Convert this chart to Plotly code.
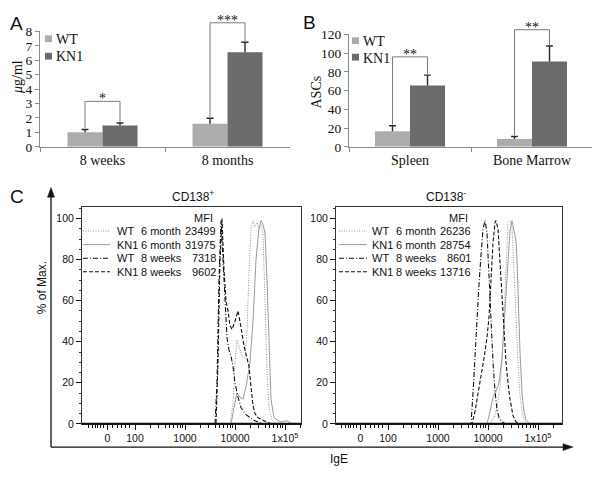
import plotly.graph_objects as go

W, H = 600, 482
OFF = 8  # default page margin of the html body


def fx(p):
    return (p - OFF) / W


def fy(p):
    return 1 - (p - OFF) / H


SERIF = "Liberation Serif"
SANS = "Liberation Sans"

# ---------------- Panel A data ----------------
a_categories = ["8 weeks", "8 months"]
a_wt = [1.0, 1.6]
a_wt_err = [0.2, 0.38]
a_kn1 = [1.48, 6.55]
a_kn1_err = [0.17, 0.7]
a_sig_labels = ["*", "***"]
a_sig_top = [3.15, 8.6]
a_yticks = [0, 1, 2, 3, 4, 5, 6, 7, 8]

# ---------------- Panel B data ----------------
b_categories = ["Spleen", "Bone Marrow"]
b_wt = [16.5, 8.3]
b_wt_err = [5.9, 2.7]
b_kn1 = [65.5, 91]
b_kn1_err = [11, 16.6]
b_sig_labels = ["**", "**"]
b_sig_top = [96, 125]
b_yticks = [0, 20, 40, 60, 80, 100, 120]

# ---------------- Panel C data (IgE fluorescence, % of max) ----------------
c_series = ["WT  6 month", "KN1 6 month", "WT  8 weeks", "KN1 8 weeks"]
c_groups = ["WT", "KN1", "WT", "KN1"]
c_times = ["6 month", "6 month", "8 weeks", "8 weeks"]
c_pos_mfi = ["23499", "31975", "7318", "9602"]
c_neg_mfi = ["26236", "28754", "8601", "13716"]

# CD138+
pos_wt6_x = [10, 7943, 9120, 10000, 10965, 12023, 13804, 15849, 17378, 19055, 20893, 22909,
             25119, 27542, 30200, 33113, 36308, 39811, 43652, 47863, 54954, 66069, 200000]
pos_wt6_y = [0, 0, 10, 30, 41, 38, 33, 32, 45, 75, 95, 99, 96, 98, 95, 97, 93, 60, 25, 8, 2, 0, 0]
pos_kn6_x = [10, 8318, 9550, 10965, 12589, 14454, 16596, 19953, 22909, 26303, 30200, 33113, 36308,
             39811, 43652, 47863, 52481, 60256, 79433, 109648, 138038, 200000]
pos_kn6_y = [0, 0, 8, 15, 13, 12, 18, 30, 50, 80, 95, 99, 97, 93, 70, 35, 12, 3, 1, 1.5, 0, 0]
pos_wt8_x = [10, 3981, 4365, 4786, 5248, 5754, 6310, 6918, 7586, 8318, 9120, 10000, 11482, 13183,
             15849, 19953, 25119, 31623, 39811, 200000]
pos_wt8_y = [0, 0, 20, 70, 99, 80, 60, 42, 36, 33, 28, 20, 13, 8, 5, 3, 1.5, 0.5, 0, 0]
pos_kn8_x = [10, 4169, 4571, 5012, 5495, 6026, 6607, 7244, 7943, 8710, 10000, 11482, 13183, 15136,
             17378, 19055, 20893, 22909, 25119, 28840, 34674, 41687, 54954, 200000]
pos_kn8_y = [0, 0, 30, 80, 100, 75, 60, 55, 48, 46, 50, 55, 47, 38, 32, 28, 18, 9, 5, 3, 2, 1, 0, 0]

# CD138-
neg_wt6_x = [10, 10965, 13183, 15136, 17378, 19055, 20893, 22909, 25119, 27542, 30200, 33113,
             36308, 39811, 43652, 47863, 52481, 60256, 300000]
neg_wt6_y = [0, 0, 3, 8, 18, 30, 52, 80, 98, 99, 96, 75, 50, 30, 14, 6, 2, 0, 0]
neg_kn6_x = [10, 9550, 10965, 12589, 14454, 16596, 19055, 21878, 25119, 27542, 30200, 33113,
             36308, 38019, 39811, 43652, 47863, 52481, 57544, 69183, 300000]
neg_kn6_y = [0, 0, 6, 13, 16, 20, 32, 55, 80, 94, 99, 94, 89, 80, 60, 35, 15, 6, 2, 0, 0]
neg_wt8_x = [10, 4571, 5012, 5495, 6026, 6607, 7244, 7943, 8710, 9550, 10471, 11482, 12589, 13804,
             15136, 16596, 19055, 22909, 300000]
neg_wt8_y = [0, 0, 15, 35, 52, 68, 82, 95, 99, 93, 72, 50, 30, 16, 7, 3, 1, 0, 0]
neg_kn8_x = [10, 4786, 5495, 6310, 7244, 8318, 9550, 10471, 11482, 12589, 13804, 14454, 15849,
             17378, 19055, 20893, 22909, 25119, 27542, 31623, 36308, 41687, 300000]
neg_kn8_y = [0, 0, 6, 14, 22, 32, 42, 52, 70, 88, 98, 99, 95, 78, 60, 45, 30, 20, 12, 4, 1, 0, 0]

c_x_tickvals = [28, 100, 1000, 10000, 100000]
c_x_ticktext = ["0", "100", "1000", "10000", "1x10<sup>5</sup>"]
c_y_tickvals = [0, 20, 40, 60, 80, 100]

# ---------------- styles ----------------
WT_COLOR = "#acacac"
KN_COLOR = "#6b6b6b"
AX_GRAY = "#8c8c8c"
ERR_COLOR = "#2a2a2a"
c_styles = [
    dict(color="#8f8f8f", width=1, dash="1px,1.5px"),
    dict(color="#9a9a9a", width=1, dash="solid"),
    dict(color="#111111", width=1.1, dash="5px,2px,1px,2px"),
    dict(color="#111111", width=1.1, dash="4px,2px"),
]

fig = go.Figure()
shapes = []
annotations = []

# ---- bar panels ----
bar_panels = [
    ("x", "y", a_categories, a_wt, a_wt_err, a_kn1, a_kn1_err, 0.28),
    ("x2", "y2", b_categories, b_wt, b_wt_err, b_kn1, b_kn1_err, 0.287),
]
for xa, ya, cats, wt, wte, kn, kne, bw in bar_panels:
    for vals, errs, col, off, nm in [(wt, wte, WT_COLOR, -bw, "WT"), (kn, kne, KN_COLOR, 0, "KN1")]:
        fig.add_trace(go.Bar(
            x=cats, y=vals, name=nm, marker=dict(color=col, line=dict(width=0)),
            width=bw, offset=off, xaxis=xa, yaxis=ya, showlegend=False,
            error_y=dict(type="data", array=errs, arrayminus=[0] * len(errs), symmetric=False,
                         color=ERR_COLOR, thickness=1.4, width=0),
        ))
        # caps of the (upper-only) error bars
        for i, (v, e) in enumerate(zip(vals, errs)):
            c = i + off + bw / 2
            shapes.append(dict(type="line", xref=xa, yref=ya, x0=c - 0.028, x1=c + 0.028,
                               y0=v + e, y1=v + e, line=dict(color=ERR_COLOR, width=1.4)))

# ---- histogram panels ----
pos_curves = [(pos_wt6_x, pos_wt6_y), (pos_kn6_x, pos_kn6_y), (pos_wt8_x, pos_wt8_y), (pos_kn8_x, pos_kn8_y)]
neg_curves = [(neg_wt6_x, neg_wt6_y), (neg_kn6_x, neg_kn6_y), (neg_wt8_x, neg_wt8_y), (neg_kn8_x, neg_kn8_y)]
for xa, ya, curves in [("x3", "y3", pos_curves), ("x4", "y4", neg_curves)]:
    for (cx, cy), st, nm in zip(curves, c_styles, c_series):
        fig.add_trace(go.Scatter(x=cx, y=cy, mode="lines", line=st, name=nm,
                                 xaxis=xa, yaxis=ya, showlegend=False, hoverinfo="skip"))


def brackets(xref, ydom, ymax, wt, wte, kn, kne, tops, labels, half):
    for i in range(len(tops)):
        t = tops[i] / ymax
        lo_l = (wt[i] + wte[i]) / ymax + 0.01
        lo_r = (kn[i] + kne[i]) / ymax + 0.01
        xl, xr = i - half, i + half
        line = dict(color="#7a7a7a", width=1)
        shapes.append(dict(type="line", xref=xref, yref=ydom, x0=xl, x1=xl, y0=lo_l, y1=t, line=line))
        shapes.append(dict(type="line", xref=xref, yref=ydom, x0=xl, x1=xr, y0=t, y1=t, line=line))
        shapes.append(dict(type="line", xref=xref, yref=ydom, x0=xr, x1=xr, y0=lo_r, y1=t, line=line))
        annotations.append(dict(x=i, y=t, xref=xref, yref=ydom, text=labels[i], showarrow=False,
                                yanchor="bottom", yshift=-7, font=dict(family=SERIF, size=14, color="#111")))


brackets("x", "y domain", 8, a_wt, a_wt_err, a_kn1, a_kn1_err, a_sig_top, a_sig_labels, 0.14)
brackets("x2", "y2 domain", 120, b_wt, b_wt_err, b_kn1, b_kn1_err, b_sig_top, b_sig_labels, 0.1435)

# ---- manual legends for A / B ----
for (sx, rows) in [(45, [(29, 36, WT_COLOR, "WT", 33.5), (47, 54, KN_COLOR, "KN1", 50.5)]),
                   (352, [(31, 38, WT_COLOR, "WT", 35), (48, 55, KN_COLOR, "KN1", 52.5)])]:
    for y0, y1, col, txt_, yc in rows:
        shapes.append(dict(type="rect", xref="paper", yref="paper", x0=fx(sx), x1=fx(sx + 7),
                           y0=fy(y1), y1=fy(y0), fillcolor=col, line=dict(width=0)))
        annotations.append(dict(x=fx(sx + 9), y=fy(yc), xref="paper", yref="paper", text=txt_,
                                showarrow=False, xanchor="left", yanchor="middle",
                                font=dict(family=SERIF, size=14, color="#111")))

# ---- manual legends for C ----
for (lx0, lx1, tx, mfi_r, mfi_vals) in [(83, 110, 115, 218, c_pos_mfi), (339, 367, 370, 473, c_neg_mfi)]:
    annotations.append(dict(x=fx(mfi_r - 15), y=fy(218), xref="paper", yref="paper", text="MFI",
                            showarrow=False, xanchor="center", yanchor="middle",
                            font=dict(family=SANS, size=11, color="#111")))
    for k in range(4):
        yy = fy(231 + 14 * k)
        st = c_styles[k]
        shapes.append(dict(type="line", xref="paper", yref="paper", x0=fx(lx0), x1=fx(lx1), y0=yy, y1=yy,
                           line=dict(color=st["color"], width=st["width"], dash=st["dash"])))
        annotations.append(dict(x=fx(tx), y=yy, xref="paper", yref="paper", text=c_groups[k],
                                showarrow=False, xanchor="left", yanchor="middle",
                                font=dict(family=SANS, size=11, color="#111")))
        annotations.append(dict(x=fx(tx + 24), y=yy, xref="paper", yref="paper", text=c_times[k],
                                showarrow=False, xanchor="left", yanchor="middle",
                                font=dict(family=SANS, size=11, color="#111")))
        annotations.append(dict(x=fx(mfi_r), y=yy, xref="paper", yref="paper", text=mfi_vals[k],
                                showarrow=False, xanchor="right", yanchor="middle",
                                font=dict(family=SANS, size=11, color="#111")))

# thick baseline of histogram boxes
for xd, yd in [("x3 domain", "y3 domain"), ("x4 domain", "y4 domain")]:
    shapes.append(dict(type="line", xref=xd, yref=yd, x0=0, x1=1, y0=0, y1=0,
                       line=dict(color="#111", width=2)))

# outer arrows of panel C (drawn as shapes)
ARW = dict(color="#111", width=1.3)
shapes.append(dict(type="line", xref="paper", yref="paper", x0=fx(51), x1=fx(51), y0=fy(454), y1=fy(194), line=ARW))
shapes.append(dict(type="path", xref="paper", yref="paper",
                   path=f"M {fx(47.5)},{fy(196)} L {fx(51)},{fy(186)} L {fx(54.5)},{fy(196)} Z",
                   fillcolor="#111", line=dict(color="#111", width=0.5)))
shapes.append(dict(type="line", xref="paper", yref="paper", x0=fx(51), x1=fx(565), y0=fy(454), y1=fy(454), line=ARW))
shapes.append(dict(type="path", xref="paper", yref="paper",
                   path=f"M {fx(563)},{fy(450.5)} L {fx(573)},{fy(454)} L {fx(563)},{fy(457.5)} Z",
                   fillcolor="#111", line=dict(color="#111", width=0.5)))


# texts
def txt(x, y, s, size, family=SANS, angle=0, anchor="center"):
    annotations.append(dict(x=fx(x), y=fy(y), xref="paper", yref="paper", text=s, showarrow=False,
                            textangle=angle, xanchor=anchor, yanchor="middle",
                            font=dict(family=family, size=size, color="#111")))


txt(16, 17, "A", 19)
txt(309, 16, "B", 19)
txt(17, 195, "C", 19)
txt(17, 72, "<i>μ</i>g/ml", 14, SERIF, -90)
txt(317, 88, "ASCs", 14, SERIF, -90)
txt(193, 195, "CD138<sup>+</sup>", 12)
txt(446, 195, "CD138<sup>-</sup>", 12)
txt(42, 290, "% of Max.", 12, SANS, -90)
txt(339, 466, "IgE", 12)

serif_tick = dict(family=SERIF, size=13.5, color="#111")
cat_tick = dict(family=SERIF, size=14, color="#111")
sans_tick = dict(family=SANS, size=10.5, color="#111")

minor_x = [12, 14, 16, 18, 20, 23, 36, 44, 53, 64, 78,
           200, 300, 400, 500, 600, 700, 800, 900,
           2000, 3000, 4000, 5000, 6000, 7000, 8000, 9000,
           20000, 30000, 40000, 50000, 60000, 70000, 80000, 90000, 200000]


def bar_x(dom):
    return dict(domain=dom, type="category", showline=True, linecolor=AX_GRAY, linewidth=1,
                ticks="outside", tickson="boundaries", ticklen=4, tickcolor=AX_GRAY,
                tickfont=cat_tick, showgrid=False, zeroline=False, range=[-0.5, 1.5], fixedrange=True)


def bar_y(dom, rng, tv):
    return dict(domain=dom, range=rng, tickvals=tv, showline=True, linecolor=AX_GRAY, linewidth=1,
                ticks="outside", ticklen=4, tickcolor=AX_GRAY, tickfont=serif_tick,
                showgrid=False, zeroline=False)


def hist_x(dom, rng, anchor):
    return dict(domain=dom, anchor=anchor, type="log", range=rng, tickvals=c_x_tickvals,
                ticktext=c_x_ticktext, ticks="outside", ticklen=5, tickcolor="#111",
                showline=True, mirror=True, linecolor="#333", linewidth=1, tickfont=sans_tick,
                showgrid=False, zeroline=False,
                minor=dict(tickvals=minor_x, ticks="outside", ticklen=3, tickcolor="#111", showgrid=False))


def hist_y(dom, anchor):
    return dict(domain=dom, anchor=anchor, range=[0, 105.7], tickvals=c_y_tickvals, ticks="outside",
                ticklen=5, tickcolor="#111", showline=True, mirror=True, linecolor="#333", linewidth=1,
                tickfont=sans_tick, showgrid=False, zeroline=False,
                minor=dict(dtick=5, tick0=0, ticks="outside", ticklen=2, tickcolor="#333", showgrid=False))


fig.update_layout(
    width=W, height=H, margin=dict(l=0, r=0, t=0, b=0),
    paper_bgcolor="white", plot_bgcolor="white", showlegend=False, barmode="overlay",
    xaxis=dict(bar_x([fx(40), fx(290)]), anchor="y"),
    yaxis=bar_y([fy(144), fy(25)], [0, 8], a_yticks) | dict(anchor="x"),
    xaxis2=dict(bar_x([fx(349), fx(593)]), anchor="y2"),
    yaxis2=bar_y([fy(144), fy(28)], [0, 120], b_yticks) | dict(anchor="x2"),
    xaxis3=hist_x([fx(82), fx(301)], [0.94, 5.32], "y3"),
    yaxis3=hist_y([fy(430), fy(206)], "x3"),
    xaxis4=hist_x([fx(336), fx(562)], [0.96, 5.48], "y4"),
    yaxis4=hist_y([fy(430), fy(206)], "x4"),
    shapes=shapes, annotations=annotations,
)

fig.write_html("out.html")
